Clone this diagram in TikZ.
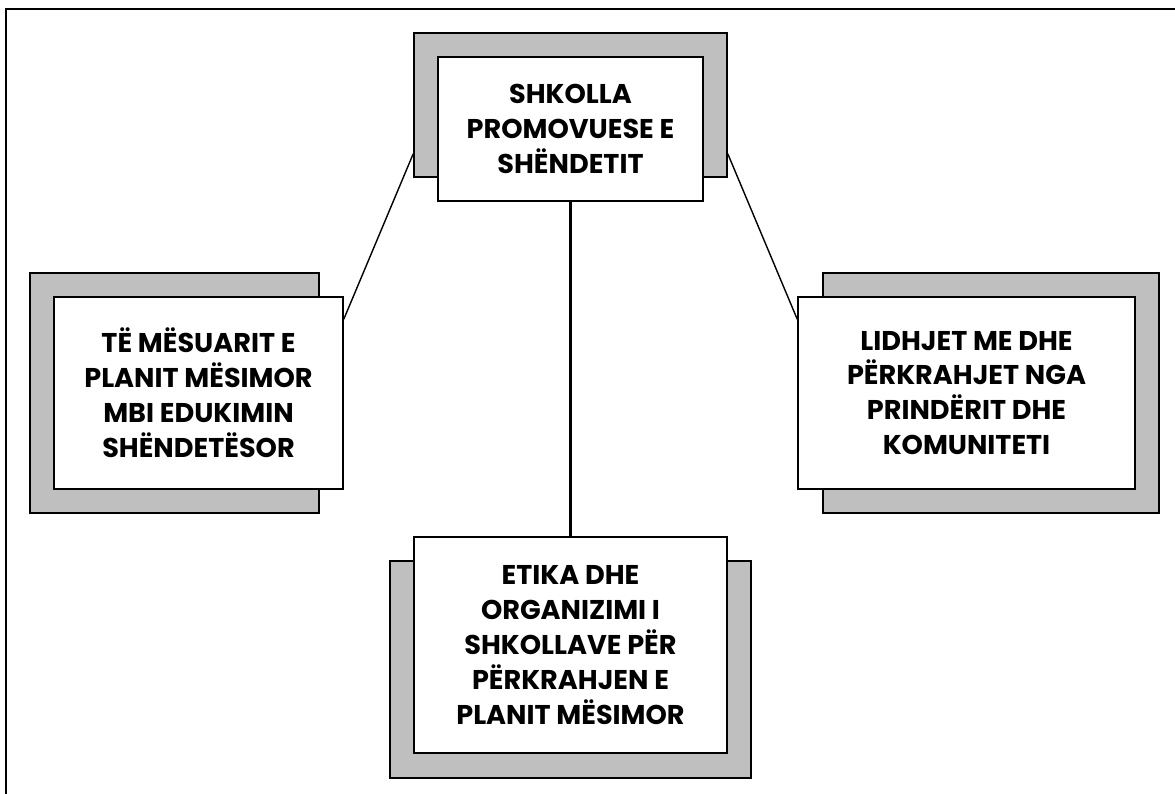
\documentclass[tikz,border=0pt]{standalone}
\usepackage{fontspec}
\setmainfont{Poppins}
\usetikzlibrary{calc}

\def\u{0.025cm}
\tikzset{
  backbox/.style={draw=black, fill=gray!50, line width=1.1pt, inner sep=0pt},
  frontbox/.style={draw=black, fill=white, line width=1.1pt, inner sep=0pt,
    align=center, font=\fontsize{19.3}{24.8}\selectfont\bfseries},
  thinlink/.style={line width=1pt},
  thicklink/.style={line width=2.1pt}
}

\begin{document}
\begin{tikzpicture}[x=0.025cm,y=-0.025cm]
\useasboundingbox (0,0) rectangle (1175,794);
% outer frame
\coordinate (framebl) at (6,800);
\coordinate (frametl) at (6,9);
\coordinate (frametr) at (1180,9);
\draw[line width=1.4pt] (framebl) -- (frametl) -- (frametr);

% top box
\node[backbox, minimum width=313*\u, minimum height=144*\u] (topback) at (570.5,105) {};
\node[frontbox, minimum width=265*\u, minimum height=144*\u] (topfront) at (570.5,129)
  {SHKOLLA\\PROMOVUESE E\\SHËNDETIT};

% left box
\node[backbox, minimum width=289*\u, minimum height=240*\u] (leftback) at (174.5,393) {};
\node[frontbox, minimum width=289*\u, minimum height=192*\u] (leftfront) at (198.5,393)
  {TË MËSUARIT E\\PLANIT MËSIMOR\\MBI EDUKIMIN\\SHËNDETËSOR};

% right box
\node[backbox, minimum width=336*\u, minimum height=240*\u] (rightback) at (991,393) {};
\node[frontbox, minimum width=337*\u, minimum height=192*\u] (rightfront) at (966.5,393)
  {LIDHJET ME DHE\\PËRKRAHJET NGA\\PRINDËRIT DHE\\KOMUNITETI};

% bottom box
\node[backbox, minimum width=361*\u, minimum height=217*\u] (bottomback) at (570.5,669.5) {};
\node[frontbox, minimum width=313*\u, minimum height=216*\u] (bottomfront) at (570.5,645)
  {ETIKA DHE\\ORGANIZIMI I\\SHKOLLAVE PËR\\PËRKRAHJEN E\\PLANIT MËSIMOR};

% links
\draw[thicklink] (topfront.south) -- (bottomfront.north);
\draw[thinlink] ($(leftfront.north east)+(0,23)$) -- ($(topback.south west)+(0,-24)$);
\draw[thinlink] ($(topback.south east)+(0,-24)$) -- ($(rightfront.north west)+(0,23)$);
\end{tikzpicture}
\end{document}
